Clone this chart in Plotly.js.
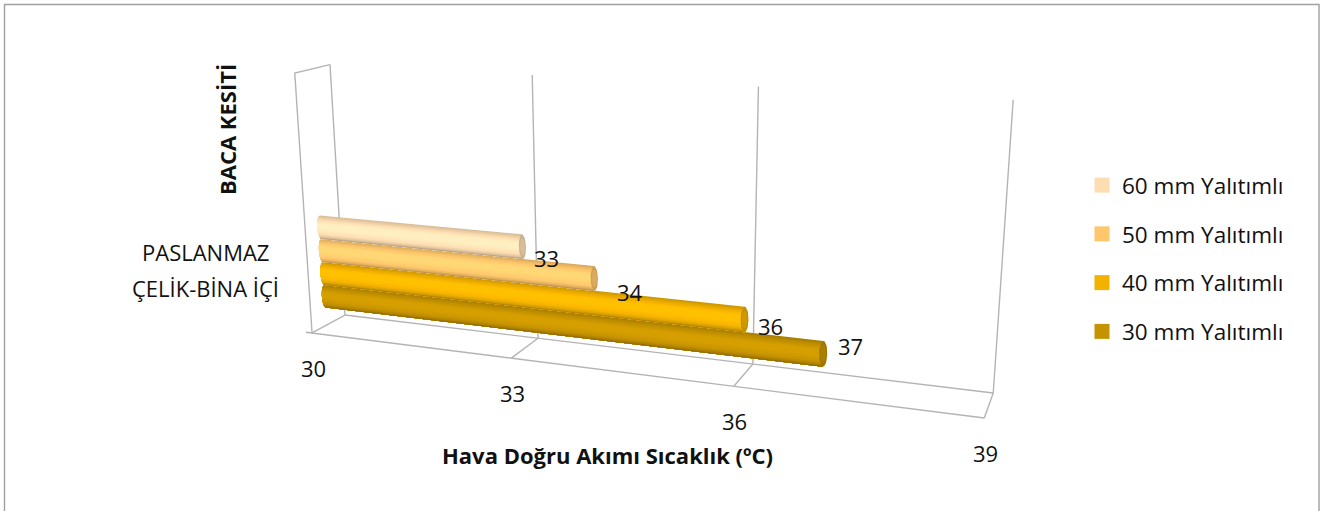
<!DOCTYPE html>
<html>
<head>
<meta charset="utf-8">
<script src="https://cdn.plot.ly/plotly-3.0.1.min.js"></script>
<style>html,body{margin:0;padding:0;background:#fff;overflow:hidden}#chart{width:1320px;height:511px}</style>
</head>
<body>
<div id="chart"></div>
<script>
// Chart values
const categoryLines = ["PASLANMAZ", "ÇELİK-BİNA İÇİ"];
const seriesNames = ["30 mm Yalıtımlı", "40 mm Yalıtımlı", "50 mm Yalıtımlı", "60 mm Yalıtımlı"];
const seriesValues = [37, 36, 34, 33];
const seriesColors = ["#C69300", "#F2B200", "#FFC76C", "#FDDDB2"];
const tickValues = [30, 33, 36, 39];
const xAxisTitle = "Hava Doğru Akımı Sıcaklık (ºC)";
const yAxisTitle = "BACA KESİTİ";

const axisMin = tickValues[0];
const axisMax = tickValues[tickValues.length - 1];
const FONT = "'Open Sans', sans-serif";
const INK = "#111111";
const GRID = "#b4b4b4";

// Perspective of the 3-D box: origin corner, vanishing points and their weights
const ORIGIN = [345, 315];
const VP_VALUE = [-3280, -121], W_VALUE = -0.1517;
const VP_DEPTH = [1186, -144], W_DEPTH = -0.0377;
const VP_UP = [651, 5427], W_UP = -0.0467;

function project(value, depth, up) {
  const a = (value - axisMin) / (axisMax - axisMin) * W_VALUE;
  const b = depth * W_DEPTH;
  const c = up * W_UP;
  const w = 1 + a + b + c;
  return [0, 1].map(i => (ORIGIN[i] + a * VP_VALUE[i] + b * VP_DEPTH[i] + c * VP_UP[i]) / w);
}

const traces = [];

function polyline(points, color, width) {
  traces.push({
    type: "scatter", mode: "lines", hoverinfo: "skip", showlegend: false,
    x: points.map(p => p[0]), y: points.map(p => p[1]),
    line: {color: color, width: width}
  });
}

// Floor, side wall and value gridlines
tickValues.forEach(v => {
  polyline([project(v, 0, 1), project(v, 0, 0), project(v, 1, 0)], GRID, 1.4);
});
polyline([project(axisMin, 0, 0), project(axisMax, 0, 0)], GRID, 1.4);
polyline([project(axisMin - 0.1, 1, 0), project(axisMax, 1, 0)], GRID, 1.4);
polyline([project(axisMin, 1, 0), project(axisMin, 1, 1), project(axisMin, 0, 1)], GRID, 1.4);

// Cylinders
const BAR_DEPTH = 0.5, BAR_BASE = 0.112, BAR_STEP = 0.0925, BAR_RADIUS = 0.0465, END_BULGE = 0.05, START_OVERHANG = 0.035;
const SHADE = [[-1, 0.84], [-0.7, 0.96], [-0.3, 1.08], [0.15, 1.08], [0.6, 1.01], [0.86, 0.88], [1, 0.68]];
const STRIPS = 24, ARC = 12;

function shade(hex, f) {
  const n = parseInt(hex.slice(1), 16);
  const ch = [n >> 16, (n >> 8) & 255, n & 255].map(c => Math.min(255, Math.round(c * f)));
  return `rgb(${ch.join(",")})`;
}
function shadeAt(u) {
  for (let i = 1; i < SHADE.length; i++) {
    if (u <= SHADE[i][0]) {
      const s = (u - SHADE[i - 1][0]) / (SHADE[i][0] - SHADE[i - 1][0]);
      return SHADE[i - 1][1] + s * (SHADE[i][1] - SHADE[i - 1][1]);
    }
  }
  return SHADE[SHADE.length - 1][1];
}
function filled(points, color) {
  traces.push({
    type: "scatter", mode: "lines", hoverinfo: "skip", showlegend: false,
    x: points.map(p => p[0]), y: points.map(p => p[1]),
    fill: "toself", fillcolor: color, line: {width: 0, color: color}
  });
}

seriesValues.forEach((value, i) => {
  const mid = BAR_BASE + i * BAR_STEP;
  const edge = u => END_BULGE * Math.sqrt(Math.max(0, 1 - u * u));
  // Each strip reaches the underside, so the next one paints over it without seams
  for (let k = 0; k < STRIPS; k++) {
    const u0 = -1 + 2 * k / STRIPS;
    const left = [], right = [];
    for (let j = 0; j <= ARC; j++) {
      const u = u0 + (1 - u0) * j / ARC;
      left.push(project(axisMin - START_OVERHANG - edge(u), BAR_DEPTH, mid - u * BAR_RADIUS));
      right.push(project(value - edge(u), BAR_DEPTH, mid - u * BAR_RADIUS));
    }
    filled(left.concat(right.reverse()), shade(seriesColors[i], shadeAt(u0 + 1 / STRIPS)));
  }
  // Visible end face of the cylinder
  [[1, 0.8], [0.7, 0.86]].forEach(([scale, f]) => {
    const disk = [];
    for (let j = 0; j <= 32; j++) {
      const a = j / 32 * 2 * Math.PI;
      disk.push(project(value + END_BULGE * scale * Math.cos(a), BAR_DEPTH, mid + BAR_RADIUS * scale * Math.sin(a)));
    }
    filled(disk, shade(seriesColors[i], f));
  });
});

// Legend keys, listed from the top series down
seriesNames.forEach((name, i) => {
  traces.push({
    type: "scatter", mode: "markers", x: [null], y: [null], name: name,
    legendgroup: name, legendrank: 100 - i, hoverinfo: "skip",
    marker: {symbol: "square", size: 15, color: seriesColors[i]}
  });
});

// Text
const text = (s, x, y, size, extra) => Object.assign({
  text: s, x: x, y: y, xref: "x", yref: "y", showarrow: false,
  xanchor: "center", yanchor: "middle", font: {family: FONT, size: size, color: INK}
}, extra || {});

const LABEL_NUDGE = [[27, -7], [26, 7], [36, 15], [24, 12]];
const annotations = [];
seriesValues.forEach((value, i) => {
  const end = project(value, BAR_DEPTH, BAR_BASE + i * BAR_STEP);
  annotations.push(text(String(value), end[0] + LABEL_NUDGE[i][0], end[1] + LABEL_NUDGE[i][1] - 1, 22));
});
tickValues.forEach(v => {
  const foot = project(v, 1, 0);
  annotations.push(text(String(v), foot[0] + 1, foot[1] + 35, 22));
});
categoryLines.forEach((line, i) => annotations.push(text(line, 205, 252 + 36 * i, 22)));
annotations.push(text(`<b>${xAxisTitle}</b>`, 607, 455, 22));
annotations.push(text(`<b>${yAxisTitle}</b>`, 227, 130, 22, {textangle: -90}));

const layout = {
  width: 1320, height: 511,
  margin: {l: 0, r: 0, t: 0, b: 0},
  paper_bgcolor: "#ffffff", plot_bgcolor: "#ffffff",
  xaxis: {range: [0, 1320], visible: false, fixedrange: true},
  yaxis: {range: [511, 0], visible: false, fixedrange: true},
  showlegend: true,
  legend: {
    x: 1082 / 1320, y: 1 - 164 / 511, xanchor: "left", yanchor: "top",
    font: {family: FONT, size: 22.5, color: INK},
    tracegroupgap: 16.5, itemwidth: 30, bgcolor: "rgba(0,0,0,0)"
  },
  shapes: [{
    type: "rect", xref: "x", yref: "y", x0: 4.5, y0: 4.5, x1: 1319, y1: 530,
    line: {color: "#a0a0a0", width: 1.4}, fillcolor: "rgba(0,0,0,0)"
  }],
  annotations: annotations
};

Plotly.newPlot("chart", traces, layout, {displayModeBar: false, staticPlot: true});
</script>
</body>
</html>
